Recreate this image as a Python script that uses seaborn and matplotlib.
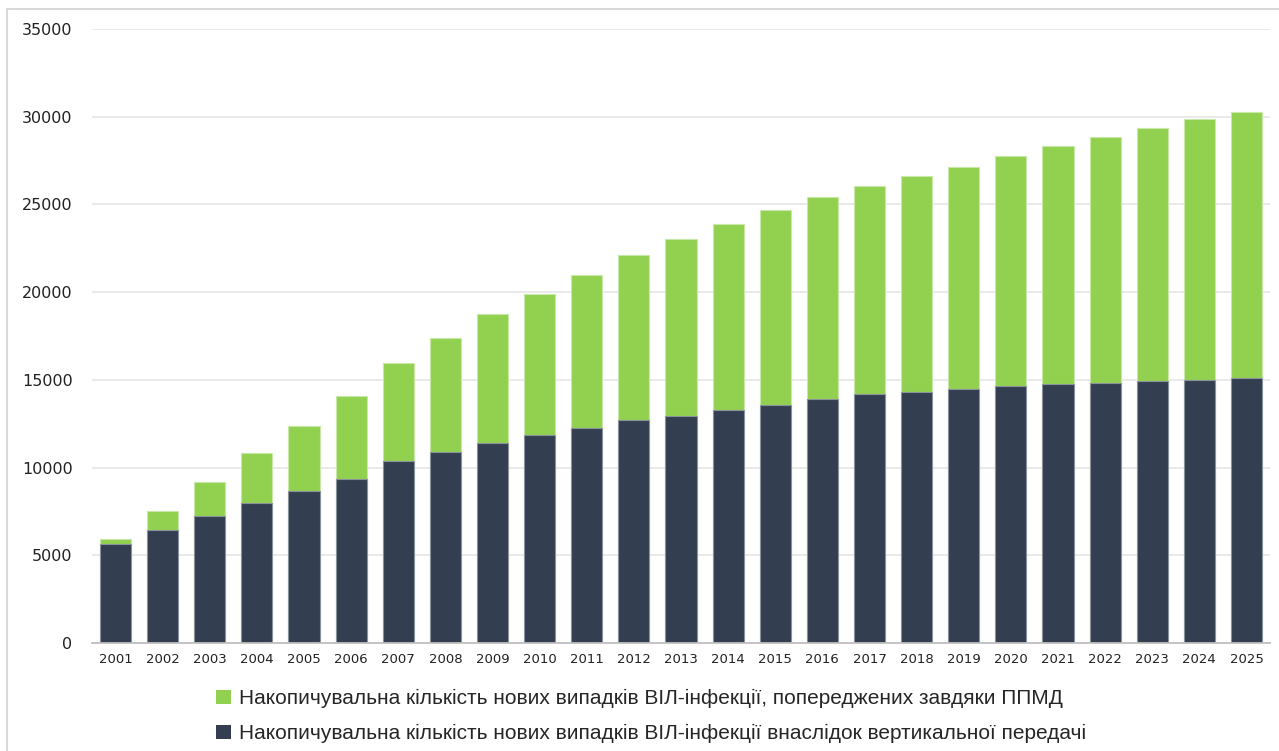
import matplotlib
matplotlib.use("Agg")
import matplotlib.pyplot as plt
import seaborn as sns
import pandas as pd
from matplotlib.patches import Rectangle, Patch

years = [str(y) for y in range(2001, 2026)]
vertical = [5650, 6460, 7240, 8000, 8685, 9370, 10360, 10910, 11420, 11840,
            12275, 12715, 12960, 13265, 13550, 13910, 14180, 14330, 14500,
            14650, 14765, 14840, 14935, 15010, 15110]
prevented = [280, 1065, 1920, 2815, 3705, 4710, 5585, 6490, 7320, 8040,
             8725, 9405, 10055, 10605, 11140, 11520, 11875, 12280, 12620,
             13115, 13585, 14025, 14445, 14850, 15180]
label_prevented = "Накопичувальна кількість нових випадків ВІЛ-інфекції, попереджених завдяки ППМД"
label_vertical = "Накопичувальна кількість нових випадків ВІЛ-інфекції внаслідок вертикальної передачі"

GREEN = "#92D050"
DARK = "#333F50"

sns.set_theme(style="white")
plt.rcParams["font.family"] = ["DejaVu Sans"]

df = pd.DataFrame({"year": years, "vertical": vertical, "prevented": prevented})
df["total"] = df["vertical"] + df["prevented"]

fig = plt.figure(figsize=(12.79, 7.51), dpi=100)
ax = fig.add_axes([0.0719, 0.1438, 0.9211, 0.8176])

# stacked bars: full height in green, vertical-transmission part drawn over it
sns.barplot(data=df, x="year", y="total", color=GREEN, width=0.66,
            saturation=1, edgecolor="#C8E8A8", linewidth=0.8, ax=ax)
sns.barplot(data=df, x="year", y="vertical", color=DARK, width=0.66,
            saturation=1, edgecolor="#8A929C", linewidth=0.8, ax=ax)

ax.set_xlim(-0.5, 24.5)
ax.set_ylim(0, 35000)
ax.set_yticks(range(0, 35001, 5000))
ax.set_yticklabels([str(v) for v in range(0, 35001, 5000)])
ax.yaxis.grid(True, color="#E6E6E6", linewidth=1.2)
ax.set_axisbelow(True)
ax.set_xlabel("")
ax.set_ylabel("")
for side in ["top", "right", "left"]:
    ax.spines[side].set_visible(False)
ax.spines["bottom"].set_color("#BFBFBF")
ax.spines["bottom"].set_linewidth(1.3)
ax.tick_params(axis="y", length=0, pad=14, labelsize=11.5, labelcolor="#222222")
ax.tick_params(axis="x", length=0, pad=7, labelsize=9.5, labelcolor="#222222")

handles = [Patch(facecolor=GREEN, edgecolor="none"),
           Patch(facecolor=DARK, edgecolor="none")]
fig.legend(handles, [label_prevented, label_vertical], loc="upper center",
           bbox_to_anchor=(0.509, 0.107), ncol=1, frameon=False,
           prop={"family": ["Liberation Sans", "DejaVu Sans"], "size": 15},
           handlelength=0.7, handleheight=0.7, handletextpad=0.4,
           labelspacing=0.75, alignment="left")

# light frame around the chart area
fig.patches.append(Rectangle((0.0055, -0.01), 1.0, 0.998, transform=fig.transFigure,
                             fill=False, edgecolor="#D9D9D9", linewidth=1.5))

fig.savefig("out.png", dpi=100)
